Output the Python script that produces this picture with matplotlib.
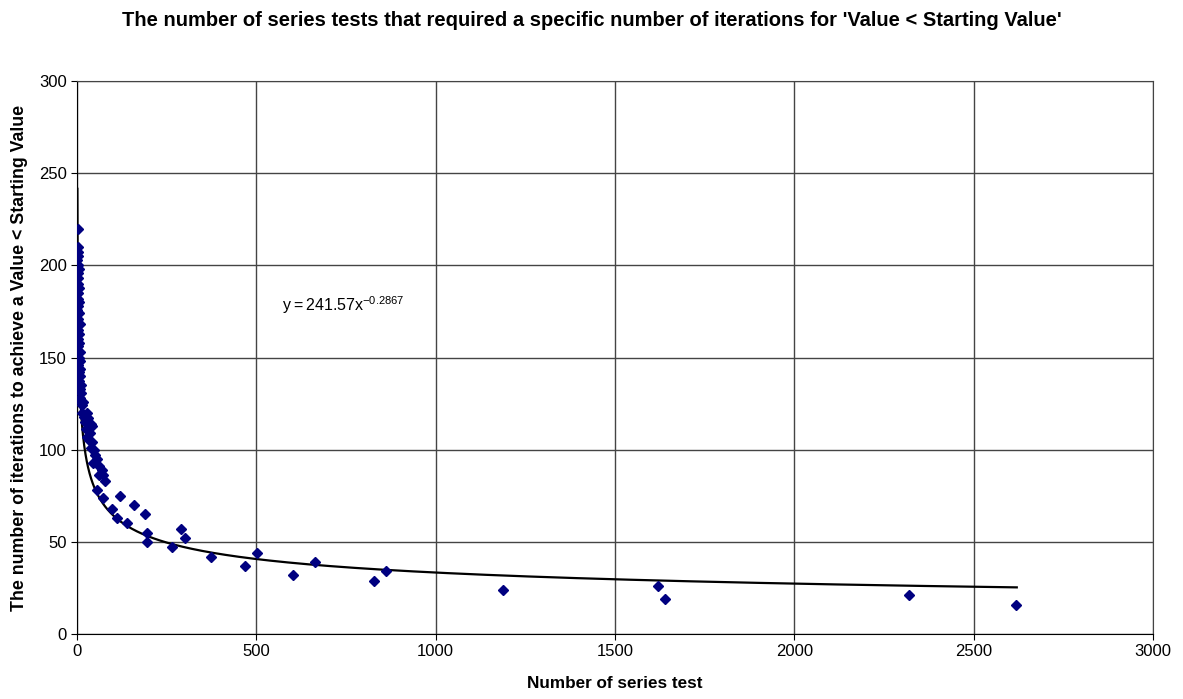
import numpy as np
import matplotlib
matplotlib.use('Agg')
import matplotlib.pyplot as plt

plt.rcParams['font.family'] = ['Liberation Sans', 'DejaVu Sans']
plt.rcParams['mathtext.default'] = 'regular'

# number of series tests (x) vs iterations needed (y)
tests = [2, 3, 2, 4, 1, 3, 5, 2, 4, 3, 6, 2, 4, 5, 3, 1, 6, 4, 7, 3,
         5, 2, 6, 4, 8, 5, 7, 3, 9, 6, 8, 5, 10, 7, 12, 9, 11, 14, 17, 13,
         20, 27, 30, 22, 38, 41, 25, 36, 28, 33, 41, 38, 46, 50, 55, 44, 60, 69, 72, 60,
         78, 57, 73, 97, 112, 120, 140, 159, 190, 196, 196, 264, 289, 301, 373, 468, 501, 601, 663, 829,
         862, 1188, 1620, 1640, 2320, 2618]
iterations = [220, 210, 207, 205, 203, 200, 198, 196, 193, 190, 188, 185, 182, 180, 178, 176, 174, 171, 168, 165,
              163, 160, 158, 156, 153, 150, 148, 146, 144, 142, 140, 137, 135, 133, 131, 128, 126, 124, 126, 120,
              118, 120, 117, 115, 114, 113, 111, 109, 107, 105, 104, 101, 100, 97, 95, 93, 91, 89, 86, 86,
              83, 78, 74, 68, 63, 75, 60, 70, 65, 55, 50, 47, 57, 52, 42, 37, 44, 32, 39, 29,
              34, 24, 26, 19, 21, 16]

a, b = 241.57, -0.2867

fig = plt.figure(figsize=(11.83, 6.99), dpi=100)
ax = fig.add_axes([0.0651, 0.093, 0.9096, 0.791])

x = np.linspace(1, 2620, 3000)
ax.plot(x, a * x ** b, color='black', lw=1.6, zorder=2)
ax.plot(tests, iterations, 'D', color='#000080', markersize=5.5, zorder=3)

ax.set_xlim(0, 3000)
ax.set_ylim(0, 300)
ax.set_xticks(np.arange(0, 3001, 500))
ax.set_yticks(np.arange(0, 301, 50))
ax.grid(True, color='#444444', lw=1)
ax.set_axisbelow(True)
for s in ax.spines.values():
    s.set_color('#444444')
ax.spines['left'].set_color('black')
ax.spines['bottom'].set_color('black')
ax.tick_params(labelsize=12, length=4, direction='out', color='black')

ax.text(571, 175, '$y = 241.57x^{-0.2867}$', fontsize=11.5)

ax.set_xlabel('Number of series test', fontsize=12.3, fontweight='bold', labelpad=12)
ax.set_ylabel('The number of iterations to achieve a Value < Starting Value',
              fontsize=12.8, fontweight='bold', labelpad=8)
fig.text(0.5, 0.971, "The number of series tests that required a specific number of iterations for 'Value < Starting Value'",
         ha='center', va='center', fontsize=14.5, fontweight='bold')

fig.savefig('out.png', dpi=100)
